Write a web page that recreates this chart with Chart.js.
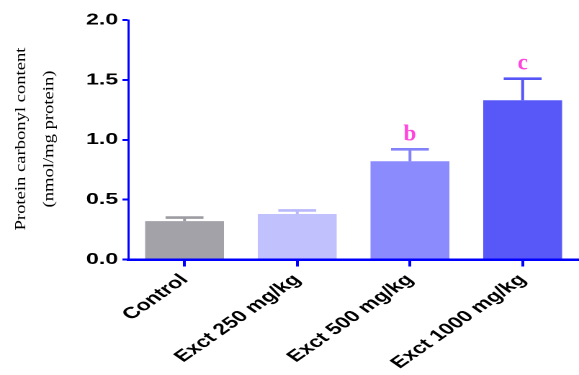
<!DOCTYPE html>
<html>
<head>
<meta charset="utf-8">
<script src="https://cdn.jsdelivr.net/npm/chart.js@4.4.1/dist/chart.umd.min.js"></script>
<style>
  html, body { margin: 0; padding: 0; background: #fff; overflow: hidden; }
  /* the figure is laid out narrow and widened horizontally, like the source figure */
  #wrap { width: 402px; height: 375px; transform: scaleX(1.44030); transform-origin: 0 0; }
</style>
</head>
<body>
<div id="wrap"><canvas id="chart" width="402" height="375"></canvas></div>
<script>
// ---- data ----
const categories = ['Control', 'Exct 250 mg/kg', 'Exct 500 mg/kg', 'Exct 1000 mg/kg'];
const means = [0.32, 0.38, 0.82, 1.33];
const sems = [0.03, 0.03, 0.10, 0.18];
const sigLetters = ['', '', 'b', 'c'];
const yTickValues = [0, 0.5, 1.0, 1.5, 2.0];
const yTitleLines = ['Protein carbonyl content', '(nmol/mg protein)'];

// ---- styling ----
const STRETCH = 579 / 402;
const barColors = ['#a3a2a8', '#c1c1fd', '#8b8bfd', '#5858f9'];
const errColors = ['#9d9ca2', '#b8b8fb', '#8282fb', '#5656f7'];
const letterColor = '#ff45dc';
const axisBlue = '#0000ff';

// error bars (mean + SEM) and significance letters
const errorBars = {
  id: 'errorBars',
  afterDatasetsDraw(chart) {
    const ctx = chart.ctx;
    const y = chart.scales.y;
    const meta = chart.getDatasetMeta(0);
    ctx.save();
    meta.data.forEach((bar, i) => {
      const base = y.getPixelForValue(means[i]);
      const top = y.getPixelForValue(means[i] + sems[i]);
      const half = bar.width * 0.24;
      ctx.strokeStyle = errColors[i];
      ctx.lineWidth = 2;
      ctx.beginPath();
      ctx.moveTo(bar.x, base);
      ctx.lineTo(bar.x, top);
      ctx.stroke();
      ctx.lineWidth = 2.6;
      ctx.beginPath();
      ctx.moveTo(bar.x - half, top);
      ctx.lineTo(bar.x + half, top);
      ctx.stroke();
      if (sigLetters[i]) {
        ctx.save();
        ctx.translate(bar.x, top - 9);
        ctx.scale(1 / STRETCH, 1);
        ctx.fillStyle = letterColor;
        ctx.font = 'bold 23px "Liberation Serif", "Times New Roman", serif';
        ctx.textAlign = 'center';
        ctx.textBaseline = 'alphabetic';
        ctx.fillText(sigLetters[i], 0, 0);
        ctx.restore();
      }
    });
    ctx.restore();
  }
};

// two-line rotated y-axis title
const yTitle = {
  id: 'yTitle',
  afterDraw(chart) {
    const ctx = chart.ctx;
    const cy = 139;
    const xs = [21 / STRETCH, 49 / STRETCH];
    ctx.save();
    ctx.fillStyle = '#000';
    ctx.font = '15px "Liberation Serif", "Times New Roman", serif';
    ctx.textAlign = 'center';
    ctx.textBaseline = 'middle';
    yTitleLines.forEach((line, k) => {
      ctx.save();
      ctx.translate(xs[k], cy);
      ctx.scale(1 / STRETCH, 1);
      ctx.rotate(-Math.PI / 2);
      ctx.scale(1.24, 1);
      ctx.fillText(line, 0, 0);
      ctx.restore();
    });
    ctx.restore();
  }
};

const tickFont = { family: '"Liberation Sans", Arial, sans-serif', weight: 'bold', size: 16 };

new Chart(document.getElementById('chart'), {
  type: 'bar',
  data: {
    labels: categories,
    datasets: [{
      data: means,
      backgroundColor: barColors,
      borderWidth: 0,
      barPercentage: 0.7,
      categoryPercentage: 1.0
    }]
  },
  options: {
    responsive: false,
    devicePixelRatio: 2,
    animation: false,
    layout: { padding: { top: 20, right: 0, bottom: 0, left: 0 } },
    plugins: { legend: { display: false }, tooltip: { enabled: false } },
    scales: {
      x: {
        offset: true,
        grid: { drawOnChartArea: false, drawTicks: true, tickLength: 7, color: axisBlue, lineWidth: 2, offset: false },
        border: { color: axisBlue, width: 2.5 },
        ticks: { minRotation: 45, maxRotation: 45, padding: 4, color: '#000', font: tickFont },
        afterFit(scale) { scale.height = 115.5; }
      },
      y: {
        min: 0,
        max: 2,
        afterBuildTicks(scale) { scale.ticks = yTickValues.map(v => ({ value: v })); },
        ticks: { padding: 3, color: '#000', font: tickFont, callback: v => Number(v).toFixed(1) },
        grid: { drawOnChartArea: false, drawTicks: true, tickLength: 4, color: axisBlue, lineWidth: 2 },
        border: { color: axisBlue, width: 1.5 },
        afterFit(scale) { scale.width = 89; }
      }
    }
  },
  plugins: [errorBars, yTitle]
});
</script>
</body>
</html>
